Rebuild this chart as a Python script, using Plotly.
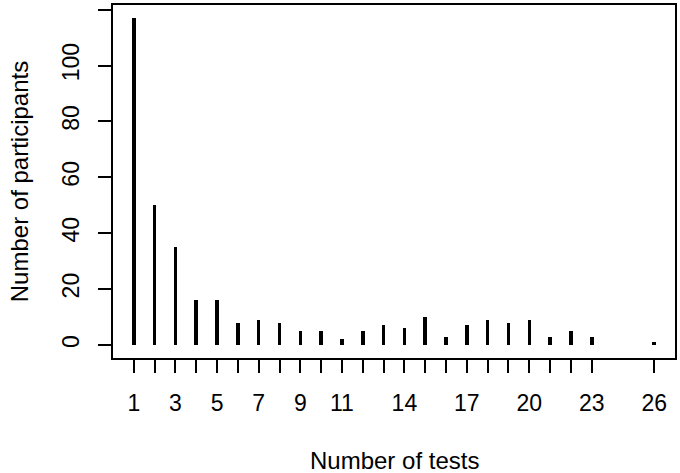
import plotly.graph_objects as go

tests = [1, 2, 3, 4, 5, 6, 7, 8, 9, 10, 11, 12, 13, 14, 15, 16, 17, 18, 19, 20, 21, 22, 23, 26]
participants = [117, 50, 35, 16, 16, 8, 9, 8, 5, 5, 2, 5, 7, 6, 10, 3, 7, 9, 8, 9, 3, 5, 3, 1]
x_labels = {1: "1", 3: "3", 5: "5", 7: "7", 9: "9", 11: "11", 14: "14", 17: "17", 20: "20", 23: "23", 26: "26"}
y_ticks = [0, 20, 40, 60, 80, 100, 120]
y_labels = ["0", "20", "40", "60", "80", "100", ""]

FONT = "Liberation Sans, Arial, sans-serif"

fig = go.Figure()
fig.add_trace(go.Bar(x=tests, y=participants, width=0.17, marker=dict(color="black", line=dict(width=0))))

fig.update_layout(
    width=680, height=473,
    margin=dict(l=113, r=4, t=3, b=115),
    paper_bgcolor="white", plot_bgcolor="white",
    showlegend=False,
    font=dict(family=FONT, color="black"),
    bargap=0,
)
fig.update_xaxes(
    range=[0, 27], tickmode="array", tickvals=tests,
    ticktext=[x_labels.get(t, "") for t in tests],
    ticks="outside", ticklen=13, tickwidth=1.5, tickcolor="black",
    showline=True, linecolor="black", linewidth=2, mirror=True,
    showgrid=False, zeroline=False,
    tickfont=dict(size=23, family=FONT, color="black"),
    ticklabelstandoff=10,
)
fig.update_yaxes(
    range=[-4.68, 121.68], tickmode="array", tickvals=y_ticks, ticktext=y_labels,
    ticks="outside", ticklen=13, tickwidth=1.5, tickcolor="black",
    showline=True, linecolor="black", linewidth=2, mirror=True,
    showgrid=False, zeroline=False, tickangle=-90,
    tickfont=dict(size=23, family=FONT, color="black"),
    ticklabelstandoff=10,
)
fig.add_annotation(text="Number of tests", xref="paper", yref="paper", x=0.5, y=-0.29,
                   xanchor="center", yanchor="middle", showarrow=False,
                   font=dict(size=24, family=FONT, color="black"))
fig.add_annotation(text="Number of participants", xref="paper", yref="paper", x=-0.166, y=0.5,
                   xanchor="center", yanchor="middle", showarrow=False, textangle=-90,
                   font=dict(size=24, family=FONT, color="black"))

fig.write_html("out.html")
